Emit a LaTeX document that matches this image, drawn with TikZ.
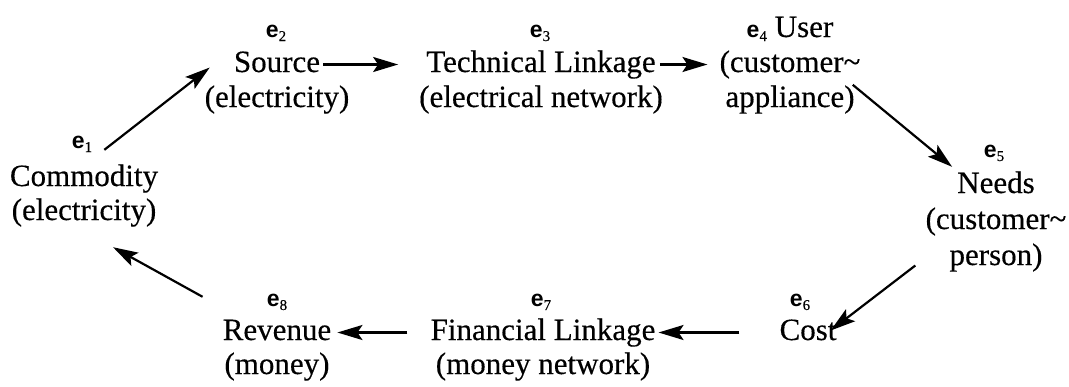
\documentclass[tikz,border=0pt]{standalone}
\usepackage{fontspec}
\setmainfont{Liberation Serif}[FakeBold=0.35]
\newfontfamily\labfont{Liberation Sans}
\usetikzlibrary{arrows.meta,calc}
\newcommand{\elab}[1]{{\labfont\fontsize{23}{23}\selectfont\bfseries e}\raisebox{-4pt}{\fontsize{15}{15}\selectfont #1}}
\tikzset{
  txt/.style={inner sep=0pt, anchor=base, font=\fontsize{31}{35}\selectfont, text height=22pt, text depth=7pt},
  lab/.style={inner sep=0pt, anchor=base},
  arr/.style={line width=2.2pt, -{Stealth[length=25pt,width=15pt,inset=5pt]}}
}
\begin{document}
\begin{tikzpicture}[x=1pt,y=-1pt]
\useasboundingbox (0,0) rectangle (1069,386);
% e1 Commodity
\node[lab] (e1) at (82,148) {\elab{1}};
\node[txt] (comm1) at (84,186) {Commodity};
\node[txt] (comm2) at (84,220) {(electricity)};
% e2 Source
\node[lab] (e2) at (276,37) {\elab{2}};
\node[txt] (src1) at (277,72) {Source};
\node[txt] (src2) at (277,107) {(electricity)};
% e3 Technical linkage
\node[lab] (e3) at (540,37) {\elab{3}};
\node[txt] (tech1) at (541,72) {Technical Linkage};
\node[txt] (tech2) at (541,107) {(electrical network)};
% e4 User
\node[txt] (user1) at (790,37) {\elab{4} User};
\node[txt] (user2) at (790,72) {(customer\char`\~};
\node[txt] (user3) at (790,107) {appliance)};
% e5 Needs
\node[lab] (e5) at (994,157) {\elab{5}};
\node[txt] (need1) at (996,193) {Needs};
\node[txt] (need2) at (996,229) {(customer\char`\~};
\node[txt] (need3) at (996,265) {person)};
% e6 Cost
\node[lab] (e6) at (800,306) {\elab{6}};
\node[txt] (cost1) at (808,340) {Cost};
% e7 Financial linkage
\node[lab] (e7) at (541,306) {\elab{7}};
\node[txt] (fin1) at (543,340) {Financial Linkage};
\node[txt] (fin2) at (543,374) {(money network)};
% e8 Revenue
\node[lab] (e8) at (277,306) {\elab{8}};
\node[txt] (rev1) at (277,340) {Revenue};
\node[txt] (rev2) at (277,374) {(money)};
% connectors
\draw[arr] ([xshift=12pt,yshift=-6pt]e1.east) -- ([xshift=-24pt,yshift=-3pt]src1.west);
\draw[arr] ([xshift=3pt]src1.east) -- ([xshift=-28pt]tech1.west);
\draw[arr] ([xshift=4pt]tech1.east) -- ([xshift=-12pt]user2.west);
\draw[arr] ([xshift=-2pt]user3.north east) -- ([xshift=-5pt,yshift=4pt]need1.north west);
\draw[arr] ([xshift=-34pt,yshift=-8pt]need3.west) -- ([xshift=-6pt,yshift=2pt]cost1.east);
\draw[arr] ([xshift=-40pt]cost1.west) -- ([xshift=3pt]fin1.east);
\draw[arr] ([xshift=-23pt]fin1.west) -- ([xshift=6pt]rev1.east);
\draw[arr] ([xshift=-20pt,yshift=21pt]rev1.north west) -- ([xshift=29pt,yshift=-20pt]comm2.south);
\end{tikzpicture}
\end{document}
